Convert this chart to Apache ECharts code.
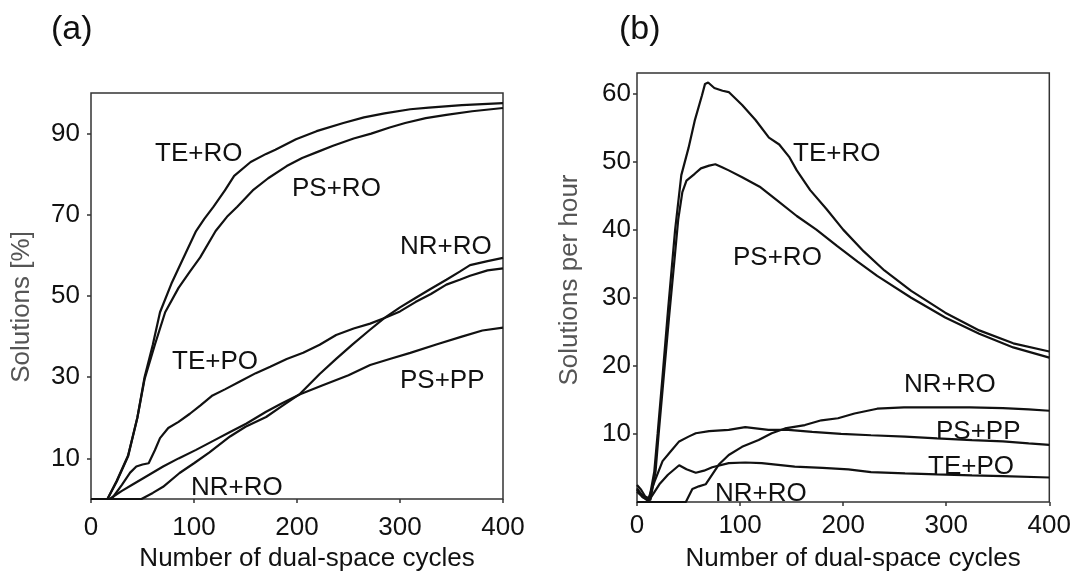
<!DOCTYPE html>
<html><head><meta charset="utf-8">
<script src="https://cdn.jsdelivr.net/npm/echarts@6.0.0/dist/echarts.min.js"></script>
<style>html,body{margin:0;padding:0;background:#fff}#c{width:1074px;height:577px}</style>
</head><body><div id="c"></div>
<script>
// ---- tick labels ----
const xTicks = [0, 100, 200, 300, 400];
const yTicksA = [10, 30, 50, 70, 90];
const yTicksB = [10, 20, 30, 40, 50, 60];

// ---- panel (a): Solutions [%] ----
const aTeRoX = [0, 16, 25, 36, 45, 52, 60, 67, 78, 89, 102, 110, 119, 130, 139, 155, 170, 179, 199, 219, 245, 265, 285, 310, 328, 360, 400];
const aTeRoY = [0, 0, 4.5, 10.7, 20, 30, 38, 46, 53, 59, 66, 69, 72, 76, 79.6, 83, 85, 86, 88.6, 90.6, 92.6, 94, 95, 96, 96.4, 97, 97.5];
const aPsRoX = [0, 16, 25, 36, 45, 52, 62, 72, 85, 96, 106, 121, 132, 142, 157, 172, 190, 205, 220, 235, 255, 272, 290, 305, 325, 345, 370, 400];
const aPsRoY = [0, 0, 4.3, 10.5, 20, 29.5, 38, 46, 52, 56, 59.5, 66, 69.5, 72, 76, 79, 82, 84, 85.5, 87, 88.8, 90, 91.5, 92.6, 93.8, 94.6, 95.5, 96.3];
const aTePoX = [0, 20, 30, 38, 44, 50, 56, 62, 67, 75, 85, 96, 106, 118, 130, 145, 160, 174, 190, 206, 222, 238, 255, 271, 285, 300, 315, 330, 345, 358, 368, 385, 400];
const aTePoY = [0, 0, 3.5, 6.5, 8, 8.5, 8.8, 12, 15, 17.5, 19, 21, 23, 25.5, 27, 29, 31, 32.6, 34.5, 36, 38, 40.4, 42, 43.2, 44.6, 46.2, 48.5, 50.5, 52.8, 54, 55, 56.3, 56.8];
const aPsPpX = [0, 18, 30, 40, 54, 70, 85, 102, 120, 135, 151, 170, 185, 203, 225, 250, 271, 290, 310, 336, 360, 380, 400];
const aPsPpY = [0, 0, 2, 3.5, 5.6, 8, 10, 12.1, 14.5, 16.5, 18.6, 21.5, 23.5, 25.8, 28, 30.5, 33, 34.5, 36, 38.1, 40, 41.5, 42.2];
const aNrRoX = [0, 49, 60, 70, 86, 100, 115, 135, 150, 170, 185, 203, 222, 238, 254, 270, 285, 300, 315, 330, 345, 358, 368, 385, 400];
const aNrRoY = [0, 0, 1.5, 3, 6.4, 8.8, 11.5, 15.4, 17.8, 20.2, 22.8, 25.9, 30.8, 34.5, 38.1, 41.5, 44.6, 47.2, 49.5, 51.8, 54, 56, 57.6, 58.6, 59.4];

// ---- panel (b): Solutions per hour ----
const bTeRoX = [0, 4, 8, 12, 16.8, 20, 24.8, 30, 37, 43, 50, 56, 63, 66, 69, 75, 83, 89, 102, 115, 128, 138, 148, 155, 168, 184, 200, 220, 240, 266, 299, 332, 365, 400];
const bTeRoY = [2.5, 1.8, 0.8, 0.5, 4.5, 10, 18.5, 28, 40, 48, 52, 56, 59.7, 61.4, 61.6, 60.8, 60.4, 60.2, 58.3, 56.1, 53.5, 52.5, 50.6, 48.7, 45.8, 43, 40, 36.8, 34, 31, 27.8, 25.2, 23.3, 22.1];
const bPsRoX = [0, 4, 9, 13, 18, 21, 26, 31, 36, 40, 44, 48, 56, 62, 70, 76, 82, 89, 102, 119, 135, 155, 174, 194, 214, 233, 266, 299, 332, 365, 400];
const bPsRoY = [2, 1.2, 0.5, 0.3, 4.5, 10, 18.5, 27, 35, 41.5, 45.5, 47.2, 48.2, 49, 49.4, 49.6, 49.2, 48.7, 47.7, 46.3, 44.4, 42, 40, 37.6, 35.3, 33.2, 30, 27.1, 24.7, 22.7, 21.2];
const bPsPpX = [0, 5, 10.4, 17, 24.8, 33, 40.9, 50, 57, 70, 89, 105, 127.5, 146.8, 170, 198, 227, 260, 291, 325, 355, 380, 400];
const bPsPpY = [1.5, 0.8, 0.2, 3, 6, 7.5, 8.9, 9.6, 10.1, 10.4, 10.6, 11, 10.6, 10.6, 10.3, 10, 9.8, 9.6, 9.35, 9.1, 8.9, 8.6, 8.4];
const bTePoX = [0, 5.6, 12, 21.7, 30, 40.9, 48, 57, 65, 73, 89, 105, 121, 153, 180, 205, 227, 260, 291, 325, 355, 400];
const bTePoY = [1.8, 0.7, 0.3, 2.6, 4, 5.4, 4.8, 4.3, 4.6, 5.1, 5.7, 5.8, 5.7, 5.2, 5, 4.8, 4.4, 4.2, 4.05, 3.9, 3.8, 3.6];
const bNrRoX = [0, 47.4, 53.7, 60, 66.6, 79.4, 89, 101.9, 118, 130.7, 143.6, 162.9, 178.9, 195, 211, 233, 259, 291, 323, 355, 380, 400];
const bNrRoY = [0, 0, 1.9, 2.3, 2.6, 5.5, 6.9, 8.1, 9.1, 10.1, 10.8, 11.3, 12, 12.3, 13, 13.7, 13.9, 13.9, 13.9, 13.8, 13.6, 13.4];

const FONT = '"Liberation Sans", Arial, sans-serif';
function pairs(xs, ys) { return xs.map((x, i) => [x, ys[i]]); }
function line(name, xs, ys, idx) {
  return { type: 'line', name: name, xAxisIndex: idx, yAxisIndex: idx, data: pairs(xs, ys),
    showSymbol: false, symbol: 'none', silent: true, z: 3,
    lineStyle: { width: 2.2, color: '#111' } };
}
const lbl = { color: '#111', fontSize: 26, fontFamily: FONT };
function xAx(gi, margin, gap) {
  return { gridIndex: gi, type: 'value', min: 0, max: 400,
    axisLine: { show: false }, splitLine: { show: false },
    axisTick: { show: true, customValues: xTicks, length: 4, lineStyle: { color: '#333', width: 1.5 } },
    axisLabel: Object.assign({ customValues: xTicks, margin: margin }, lbl),
    name: 'Number of dual-space cycles', nameLocation: 'middle', nameGap: gap,
    nameTextStyle: Object.assign({ padding: [0, 0, 0, 20] }, lbl) };
}
function yAx(gi, max, ticks, margin) {
  return { gridIndex: gi, type: 'value', min: 0, max: max,
    axisLine: { show: false }, splitLine: { show: false },
    axisTick: { show: true, customValues: ticks, length: 4, lineStyle: { color: '#333', width: 1.5 } },
    axisLabel: Object.assign({ customValues: ticks, margin: margin }, lbl) };
}
function txt(s, x, y, size) {
  return { type: 'text', x: x, y: y, z: 10, silent: true,
    style: { text: s, fill: '#111', font: size + 'px ' + FONT,
      align: 'left', textAlign: 'left', verticalAlign: 'middle', textVerticalAlign: 'middle' } };
}
function rtxt(s, x, y) {
  return { type: 'text', x: x, y: y, rotation: Math.PI / 2, z: 10, silent: true,
    style: { text: s, fill: '#555', font: '26px ' + FONT,
      align: 'center', textAlign: 'center', verticalAlign: 'middle', textVerticalAlign: 'middle' } };
}

const chart = echarts.init(document.getElementById('c'), null, { renderer: 'canvas' });
chart.setOption({
  animation: false,
  backgroundColor: '#fff',
  grid: [
    { left: 91, right: 571, top: 93, bottom: 74, show: true, borderColor: '#333', borderWidth: 1.5, backgroundColor: 'transparent' },
    { left: 637, right: 21, top: 73, bottom: 69, show: true, borderColor: '#333', borderWidth: 1.5, backgroundColor: 'transparent' }
  ],
  xAxis: [xAx(0, 16, 47), xAx(1, 11, 44)],
  yAxis: [yAx(0, 100, yTicksA, 11), yAx(1, 63, yTicksB, 6)],
  series: [
    line('TE+RO', aTeRoX, aTeRoY, 0),
    line('PS+RO', aPsRoX, aPsRoY, 0),
    line('TE+PO', aTePoX, aTePoY, 0),
    line('PS+PP', aPsPpX, aPsPpY, 0),
    line('NR+RO', aNrRoX, aNrRoY, 0),
    line('TE+RO', bTeRoX, bTeRoY, 1),
    line('PS+RO', bPsRoX, bPsRoY, 1),
    line('PS+PP', bPsPpX, bPsPpY, 1),
    line('TE+PO', bTePoX, bTePoY, 1),
    line('NR+RO', bNrRoX, bNrRoY, 1)
  ],
  graphic: [
    txt('(a)', 51, 30, 34),
    txt('(b)', 619, 30, 34),
    rtxt('Solutions [%]', 22, 307),
    rtxt('Solutions per hour', 570, 280),
    txt('TE+RO', 155, 154, 26),
    txt('PS+RO', 292, 189, 26),
    txt('NR+RO', 400, 247, 26),
    txt('TE+PO', 172, 362, 26),
    txt('PS+PP', 400, 381, 26),
    txt('NR+RO', 191, 488, 26),
    txt('TE+RO', 793, 154, 26),
    txt('PS+RO', 733, 258, 26),
    txt('NR+RO', 904, 385, 26),
    txt('PS+PP', 936, 432, 26),
    txt('TE+PO', 928, 467, 26),
    txt('NR+RO', 715, 494, 26)
  ]
});
</script>
</body></html>
